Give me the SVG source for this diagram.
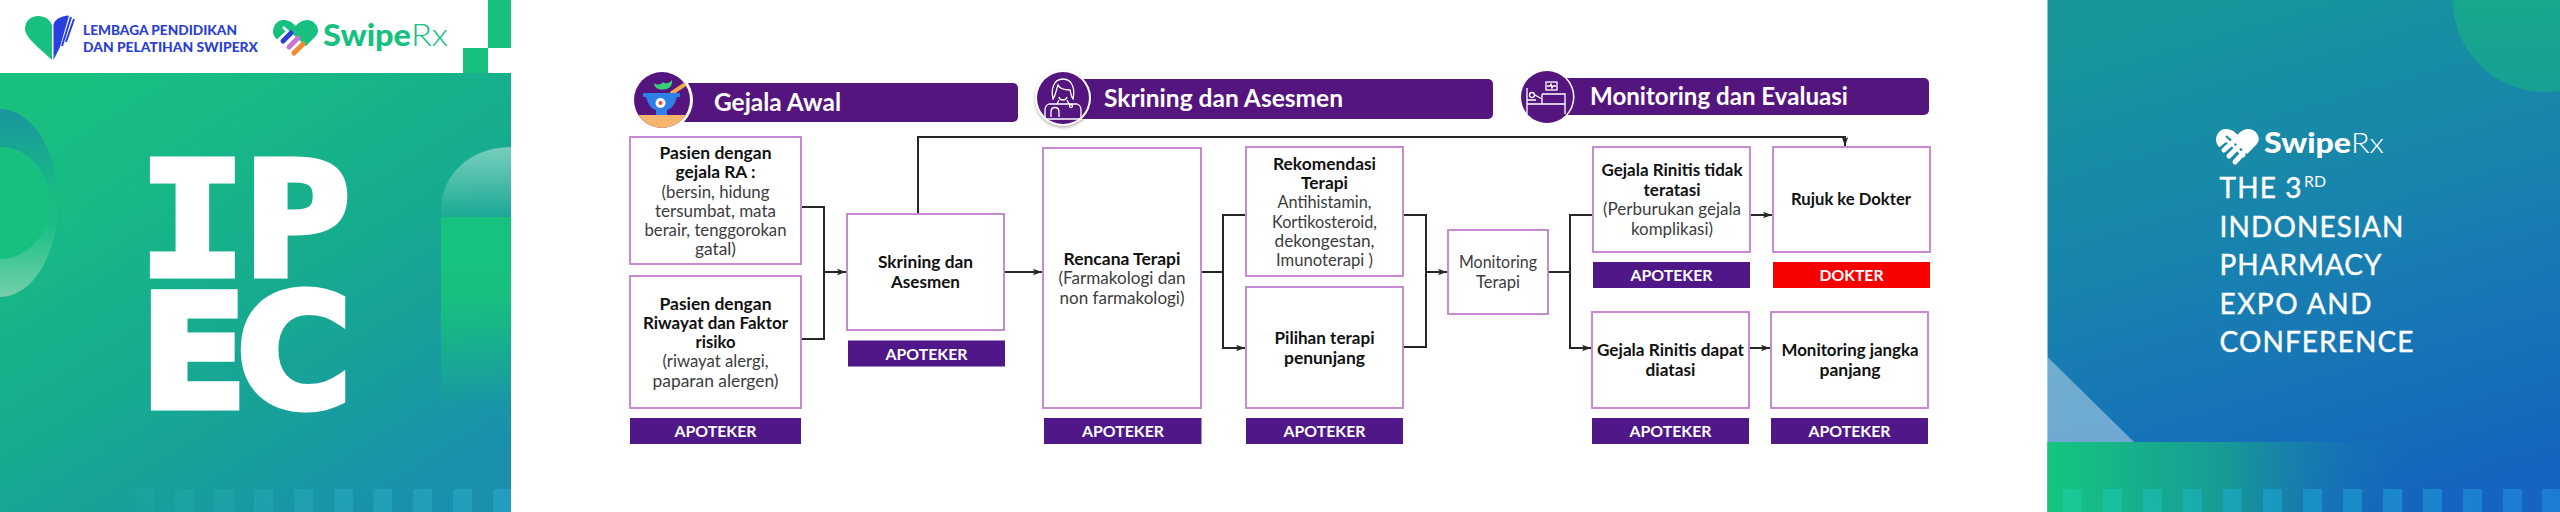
<svg xmlns="http://www.w3.org/2000/svg" width="2560" height="512" viewBox="0 0 2560 512">
<defs>
<style>
text{font-family:Lato,"Open Sans","Liberation Sans",sans-serif}
.box{fill:#fff;stroke:#c586d0;stroke-width:1.9}
.b{font-size:17px;font-weight:700;fill:#111;text-anchor:middle}
.r{font-size:17px;font-weight:400;fill:#3c3c3c;text-anchor:middle}
.tag{fill:#4f1787}
.tagt{font-size:16px;font-weight:700;fill:#fff;text-anchor:middle}
.hd{fill:#55157f}
.hdt{font-size:25.500px;font-weight:700;fill:#fff}
.conn path{fill:none;stroke:#262626;stroke-width:2}
.ico{fill:none;stroke:#fff;stroke-width:1.3}
.conf{font-size:28px;font-weight:400;fill:#fff;stroke:#fff;stroke-width:.4}
.big{font-size:157px;font-weight:700;fill:#fff;stroke:#fff;stroke-width:7;stroke-linejoin:miter}
</style>
<linearGradient id="lg" gradientUnits="userSpaceOnUse" x1="120" y1="60" x2="400" y2="512"><stop offset="0" stop-color="#18c080"/><stop offset=".55" stop-color="#16aa90"/><stop offset="1" stop-color="#1a90ac"/></linearGradient>
<linearGradient id="rg" gradientUnits="userSpaceOnUse" x1="2230" y1="0" x2="2380" y2="512"><stop offset="0" stop-color="#17969c"/><stop offset=".5" stop-color="#1880b0"/><stop offset="1" stop-color="#1564bf"/></linearGradient>
<linearGradient id="ring" x1="0" y1="0" x2="0" y2="1"><stop offset="0" stop-color="#1a94a0"/><stop offset=".45" stop-color="#18bc82"/><stop offset=".62" stop-color="#1abf85"/><stop offset="1" stop-color="#74d0ac"/></linearGradient>
<linearGradient id="arch" x1="0" y1="0" x2="0" y2="1"><stop offset="0" stop-color="#fff" stop-opacity=".42"/><stop offset="1" stop-color="#fff" stop-opacity=".02"/></linearGradient>
<linearGradient id="col" x1="0" y1="0" x2="0" y2="1"><stop offset="0" stop-color="#17c27e"/><stop offset=".4" stop-color="#17c07f"/><stop offset="1" stop-color="#17c07f" stop-opacity="0"/></linearGradient>
<linearGradient id="band" x1="0" y1="0" x2="1" y2="0"><stop offset="0" stop-color="#15c57f"/><stop offset=".35" stop-color="#179a96"/><stop offset=".75" stop-color="#1565bd" stop-opacity="0"/></linearGradient>
<linearGradient id="sqL" gradientUnits="userSpaceOnUse" x1="100" y1="0" x2="511" y2="0"><stop offset="0" stop-color="#3cc9c0" stop-opacity=".02"/><stop offset="1" stop-color="#2aa8d0" stop-opacity=".55"/></linearGradient>
<linearGradient id="sqR" gradientUnits="userSpaceOnUse" x1="2060" y1="0" x2="2560" y2="0"><stop offset="0" stop-color="#19cd98"/><stop offset=".5" stop-color="#1b94cc"/><stop offset="1" stop-color="#1e7fd8"/></linearGradient>
<linearGradient id="cir" x1="0" y1="0" x2="0" y2="1"><stop offset="0" stop-color="#17b085"/><stop offset="1" stop-color="#17a094"/></linearGradient>
<marker id="a" markerUnits="userSpaceOnUse" markerWidth="10" markerHeight="8" refX="9" refY="4" orient="auto"><path d="M0,0.8 L9,4 L0,7.2 L2,4 Z" fill="#262626"/></marker>
<filter id="sh" x="-20%" y="-20%" width="140%" height="140%"><feDropShadow dx="0" dy="1.500" stdDeviation="1.500" flood-opacity=".35"/></filter>
<clipPath id="cl"><circle cx="662" cy="100" r="28"/></clipPath>
<clipPath id="pl"><rect x="0" y="0" width="511" height="512"/></clipPath>
<path id="heart" d="M22.5,6 C19,1.5 14,0 10,0 C4,0 0,6 0,11.5 C0,15.5 2.5,18 6,21.5 L22,37 L38,21 C42,17 45,14.5 45,10.5 C45,5 40,0 34,0 C30,0 26,2 22.5,6 Z"/>
</defs>

<rect width="2560" height="512" fill="#fff"/>

<g id="left-panel" clip-path="url(#pl)">
<rect y="73" width="511" height="439" fill="url(#lg)"/>
<rect x="488" width="23" height="48" fill="#18c080"/>
<rect x="463" y="48" width="25" height="25" fill="#18c080"/>
<ellipse cx="0" cy="203" rx="58" ry="94" fill="url(#ring)"/>
<ellipse cx="0" cy="203" rx="50" ry="56" fill="#18c07f"/>
<path d="M58,150 L90,205 L60,230 Z" fill="#18c07f" opacity=".35"/>
<path d="M441,217 V210 C441,175 470,147 511,147 V217 Z" fill="url(#arch)"/>
<rect x="441" y="217" width="70" height="190" fill="url(#col)"/>
<g fill="url(#sqL)"><rect x="135" y="489" width="19" height="23"/><rect x="175" y="489" width="19" height="23"/><rect x="215" y="489" width="19" height="23"/><rect x="254" y="489" width="19" height="23"/><rect x="294" y="489" width="19" height="23"/><rect x="334" y="489" width="19" height="23"/><rect x="373" y="489" width="19" height="23"/><rect x="413" y="489" width="19" height="23"/><rect x="453" y="489" width="19" height="23"/><rect x="493" y="489" width="18" height="23"/></g>
<text class="big" transform="translate(139,274.500) scale(1.13,1)" style="font-family:'DejaVu Sans Mono',monospace"><tspan x="0">I</tspan><tspan x="93">P</tspan></text>
<text class="big" y="406.500" style="font-family:'DejaVu Sans',sans-serif"><tspan x="140">E</tspan><tspan x="236.500">C</tspan></text>
</g>

<g id="logo-lp">
<path d="M52,60 C42,50 25,38 25,29 C25,21 31,16 38,16 C45,16 51,20 52,26 Z" fill="#18c07f"/>
<path d="M53.500,60 V25 C54,20 60,16 69,15.500 L60,47 Z" fill="#2a3fe0"/>
<path d="M62,46 L71,17 M66,42 L74,19" stroke="#2a3fe0" stroke-width="2" fill="none"/>
<text x="83" y="35" font-size="14" font-weight="900" fill="#2c3fd2" textLength="154" lengthAdjust="spacingAndGlyphs">LEMBAGA PENDIDIKAN</text>
<text x="83" y="52" font-size="14" font-weight="900" fill="#2c3fd2" textLength="175" lengthAdjust="spacingAndGlyphs">DAN PELATIHAN SWIPERX</text>
</g>

<g id="logo-swiperx">
<use href="#heart" x="273" y="20" fill="#18c07f"/>
<path d="M273,43 L294,63 L316,63 L300,41 L286,31 Z" fill="#fff"/>
<path d="M283,27 L306,48" stroke="#fff" stroke-width="2.500" fill="none"/>
<path d="M283,41 L291,33" stroke="#2a3fd8" stroke-width="5" stroke-linecap="round"/>
<path d="M289,47 L298,38" stroke="#c877d0" stroke-width="5" stroke-linecap="round"/>
<path d="M294,53 L303,44" stroke="#f58a2c" stroke-width="5" stroke-linecap="round"/>
<text x="323" y="46" font-size="31" font-weight="900" fill="#18c07f" textLength="88" lengthAdjust="spacingAndGlyphs">Swipe</text>
<text x="411" y="46" font-size="31" font-weight="300" fill="#18c07f" textLength="37" lengthAdjust="spacingAndGlyphs">Rx</text>
</g>

<g id="right-panel">
<rect x="2047.500" width="512.500" height="512" fill="url(#rg)"/>
<circle cx="2545" cy="0" r="92" fill="url(#cir)"/>
<path d="M2047.500,357 L2134,442 H2047.500 Z" fill="#fff" opacity=".38"/>
<rect x="2047.500" y="442" width="512.500" height="70" fill="url(#band)"/>
<g fill="url(#sqR)" opacity=".85"><rect x="2063" y="489" width="19" height="23"/><rect x="2103" y="489" width="19" height="23"/><rect x="2143" y="489" width="19" height="23"/><rect x="2183" y="489" width="19" height="23"/><rect x="2223" y="489" width="19" height="23"/><rect x="2303" y="489" width="19" height="23"/><rect x="2263" y="489" width="19" height="23"/><rect x="2343" y="489" width="19" height="23"/><rect x="2383" y="489" width="19" height="23"/><rect x="2423" y="489" width="19" height="23"/><rect x="2463" y="489" width="19" height="23"/><rect x="2503" y="489" width="19" height="23"/><rect x="2542" y="489" width="18" height="23"/></g>
<use href="#heart" transform="translate(2216,129) scale(.95)" fill="#fff"/>
<path d="M2216,150 L2228,168 L2252,168 L2236,150 L2226,142 Z" fill="#1a8aa8"/>
<path d="M2226,136 L2247,155" stroke="#1a8aa8" stroke-width="2.200" fill="none"/>
<path d="M2224,150 L2233,142 M2229,156 L2239,146 M2235,162 L2244,152" stroke="#fff" stroke-width="5" stroke-linecap="round"/>
<text x="2264" y="153" font-size="28" font-weight="900" fill="#fff" textLength="87" lengthAdjust="spacingAndGlyphs">Swipe</text>
<text x="2351" y="153" font-size="28" font-weight="300" fill="#fff" textLength="33" lengthAdjust="spacingAndGlyphs">Rx</text>
<text class="conf" x="2219.500" y="198" textLength="82" lengthAdjust="spacing">THE 3</text>
<text x="2304" y="187" font-size="15" font-weight="400" fill="#fff" textLength="22" lengthAdjust="spacingAndGlyphs">RD</text>
<text class="conf" x="2219.500" y="237" textLength="184" lengthAdjust="spacing">INDONESIAN</text>
<text class="conf" x="2219.500" y="275" textLength="162" lengthAdjust="spacing">PHARMACY</text>
<text class="conf" x="2219.500" y="314" textLength="152" lengthAdjust="spacing">EXPO AND</text>
<text class="conf" x="2219.500" y="352" textLength="194" lengthAdjust="spacing">CONFERENCE</text>
</g>

<g id="header-gejala">
<rect class="hd" x="680" y="83" width="338" height="39" rx="5"/>
<circle cx="662" cy="100" r="31" fill="#fff"/>
<circle cx="662" cy="100" r="28" fill="#55157f"/>
<g clip-path="url(#cl)"><rect x="630" y="115" width="64" height="15" fill="#f6b56c"/></g>
<path d="M672,93 L684,85" stroke="#f4a94f" stroke-width="4" stroke-linecap="round"/>
<path d="M654,83 C658,86 662,84 663,82 C665,84 669,84 672,80 C673,86 668,90 663,89.500 C658,90 654,87 654,83 Z" fill="#3ccf78"/>
<path d="M643,93 H680 V97 H677 C675,105 671,109 667,110 V115 H656 V110 C652,109 648,105 646,97 H643 Z" fill="#2f7fe8"/>
<circle cx="660.500" cy="103" r="5" fill="#fff"/><circle cx="660.500" cy="103" r="2" fill="#e84a4a"/>
<text class="hdt" x="714" y="111" textLength="127" lengthAdjust="spacingAndGlyphs">Gejala Awal</text>
</g>

<g id="header-skrining">
<rect class="hd" x="1075" y="79" width="418" height="40" rx="5"/>
<circle cx="1063" cy="98" r="28" fill="#fff" filter="url(#sh)"/>
<circle cx="1063" cy="98" r="26" fill="#55157f"/>
<path class="ico" d="M1053,99 C1051,90 1053,79 1063,79 C1073,79 1075,90 1073,99 C1071,97 1071,93 1070,90 C1066,90 1060,89 1058,85 C1056,90 1056,95 1053,99 Z"/>
<path class="ico" d="M1059,97 C1060,101 1066,101 1067,97 M1059,100 L1057,104 H1069 L1067,100"/>
<path class="ico" d="M1057,104 H1049 C1046,105 1045,107 1045,110 V119 H1081 V110 C1081,107 1080,105 1077,104 H1069"/>
<path class="ico" d="M1051,117 V112 C1051,106 1059,106 1059,112 V117"/><circle class="ico" cx="1071" cy="106" r="1.500"/>
<text class="hdt" x="1104" y="107" textLength="239" lengthAdjust="spacingAndGlyphs">Skrining dan Asesmen</text>
</g>

<g id="header-monitoring">
<rect class="hd" x="1560" y="78" width="369" height="37" rx="5"/>
<circle cx="1547" cy="97" r="27.500" fill="#fff"/>
<circle cx="1547" cy="97" r="26" fill="#55157f"/>
<path class="ico" d="M1527,88 V114 M1527,104 H1565 V114 M1527,100 L1536,100 M1542,94 L1565,94 V104 M1542,94 V104"/>
<circle class="ico" cx="1532" cy="95" r="2.500"/>
<path class="ico" d="M1535,95 L1542,99"/>
<rect class="ico" x="1546" y="82" width="11" height="8"/><path class="ico" d="M1547,86 H1550 L1551,84 L1552,88 L1553,86 H1556"/>
<text class="hdt" x="1590" y="105" textLength="258" lengthAdjust="spacingAndGlyphs">Monitoring dan Evaluasi</text>
</g>

<g class="conn" id="connectors">
<path d="M801,207 H824 V339 H801"/>
<path d="M824,272 H846" marker-end="url(#a)"/>
<path d="M1004,272 H1042" marker-end="url(#a)"/>
<path d="M918,214 V137 H1845 V146" marker-end="url(#a)"/>
<path d="M1201,272 H1223"/>
<path d="M1245,215 H1223 V348 H1245" marker-end="url(#a)"/>
<path d="M1403,215 H1426 V347 H1403"/>
<path d="M1426,272 H1447" marker-end="url(#a)"/>
<path d="M1548,272 H1570"/>
<path d="M1592,215 H1570 V348 H1591" marker-end="url(#a)"/>
<path d="M1750,215 H1772" marker-end="url(#a)"/>
<path d="M1749,348 H1770" marker-end="url(#a)"/>
</g>

<g id="n-pasien-ra">
<rect class="box" x="630" y="137" width="171" height="127"/>
<text class="b" x="715.500" y="159" textLength="112" lengthAdjust="spacingAndGlyphs">Pasien dengan</text>
<text class="b" x="715.500" y="178" textLength="80" lengthAdjust="spacingAndGlyphs">gejala RA :</text>
<text class="r" x="715.500" y="197.500" textLength="108" lengthAdjust="spacingAndGlyphs">(bersin, hidung</text>
<text class="r" x="715.500" y="216.500" textLength="121" lengthAdjust="spacingAndGlyphs">tersumbat, mata</text>
<text class="r" x="715.500" y="236" textLength="142" lengthAdjust="spacingAndGlyphs">berair, tenggorokan</text>
<text class="r" x="715.500" y="255" textLength="41" lengthAdjust="spacingAndGlyphs">gatal)</text>
</g>
<g id="n-pasien-riwayat">
<rect class="box" x="630" y="276" width="171" height="132"/>
<text class="b" x="715.500" y="309.500" textLength="112" lengthAdjust="spacingAndGlyphs">Pasien dengan</text>
<text class="b" x="715.500" y="328.500" textLength="145" lengthAdjust="spacingAndGlyphs">Riwayat dan Faktor</text>
<text class="b" x="715.500" y="347.500" textLength="40" lengthAdjust="spacingAndGlyphs">risiko</text>
<text class="r" x="715.500" y="367" textLength="106" lengthAdjust="spacingAndGlyphs">(riwayat alergi,</text>
<text class="r" x="715.500" y="386.500" textLength="126" lengthAdjust="spacingAndGlyphs">paparan alergen)</text>
</g>
<g id="t-1"><rect class="tag" x="630" y="418" width="171" height="26"/><text class="tagt" x="715.500" y="437" textLength="82" lengthAdjust="spacingAndGlyphs">APOTEKER</text></g>

<g id="n-skrining">
<rect class="box" x="847" y="214" width="157" height="116"/>
<text class="b" x="925.500" y="268" textLength="95" lengthAdjust="spacingAndGlyphs">Skrining dan</text>
<text class="b" x="925.500" y="287.500" textLength="69" lengthAdjust="spacingAndGlyphs">Asesmen</text>
</g>
<g id="t-2"><rect class="tag" x="848" y="340.500" width="157" height="26"/><text class="tagt" x="926.500" y="359.500" textLength="82" lengthAdjust="spacingAndGlyphs">APOTEKER</text></g>

<g id="n-rencana">
<rect class="box" x="1043" y="148" width="158" height="260"/>
<text class="b" x="1122" y="264.500" textLength="117" lengthAdjust="spacingAndGlyphs">Rencana Terapi</text>
<text class="r" x="1122" y="284" textLength="127" lengthAdjust="spacingAndGlyphs">(Farmakologi dan</text>
<text class="r" x="1122" y="303.500" textLength="125" lengthAdjust="spacingAndGlyphs">non farmakologi)</text>
</g>
<g id="t-3"><rect class="tag" x="1044" y="418" width="157.500" height="26"/><text class="tagt" x="1123" y="437" textLength="82" lengthAdjust="spacingAndGlyphs">APOTEKER</text></g>

<g id="n-rekomendasi">
<rect class="box" x="1246" y="147" width="157" height="129"/>
<text class="b" x="1324.500" y="169.500" textLength="103" lengthAdjust="spacingAndGlyphs">Rekomendasi</text>
<text class="b" x="1324.500" y="188.500" textLength="47" lengthAdjust="spacingAndGlyphs">Terapi</text>
<text class="r" x="1324.500" y="208" textLength="94" lengthAdjust="spacingAndGlyphs">Antihistamin,</text>
<text class="r" x="1324.500" y="227.500" textLength="105" lengthAdjust="spacingAndGlyphs">Kortikosteroid,</text>
<text class="r" x="1324.500" y="246.500" textLength="100" lengthAdjust="spacingAndGlyphs">dekongestan,</text>
<text class="r" x="1324.500" y="266" textLength="97" lengthAdjust="spacingAndGlyphs">Imunoterapi )</text>
</g>
<g id="n-pilihan">
<rect class="box" x="1246" y="287" width="157" height="121"/>
<text class="b" x="1324.500" y="344" textLength="100" lengthAdjust="spacingAndGlyphs">Pilihan terapi</text>
<text class="b" x="1324.500" y="363.500" textLength="81" lengthAdjust="spacingAndGlyphs">penunjang</text>
</g>
<g id="t-4"><rect class="tag" x="1246" y="418" width="157" height="26"/><text class="tagt" x="1324.500" y="437" textLength="82" lengthAdjust="spacingAndGlyphs">APOTEKER</text></g>

<g id="n-monitoring-terapi">
<rect class="box" x="1448" y="230" width="100" height="84"/>
<text class="r" x="1498" y="268" textLength="78" lengthAdjust="spacingAndGlyphs">Monitoring</text>
<text class="r" x="1498" y="287.500" textLength="44" lengthAdjust="spacingAndGlyphs">Terapi</text>
</g>

<g id="n-tidak-teratasi">
<rect class="box" x="1593" y="147" width="157" height="105"/>
<text class="b" x="1672" y="176" textLength="141" lengthAdjust="spacingAndGlyphs">Gejala Rinitis tidak</text>
<text class="b" x="1672" y="195.500" textLength="57" lengthAdjust="spacingAndGlyphs">teratasi</text>
<text class="r" x="1672" y="215" textLength="138" lengthAdjust="spacingAndGlyphs">(Perburukan gejala</text>
<text class="r" x="1672" y="234.500" textLength="82" lengthAdjust="spacingAndGlyphs">komplikasi)</text>
</g>
<g id="t-5"><rect class="tag" x="1593" y="262" width="157" height="26"/><text class="tagt" x="1671.500" y="281" textLength="82" lengthAdjust="spacingAndGlyphs">APOTEKER</text></g>

<g id="n-rujuk">
<rect class="box" x="1773" y="147" width="157" height="105"/>
<text class="b" x="1851" y="205" textLength="120" lengthAdjust="spacingAndGlyphs">Rujuk ke Dokter</text>
</g>
<g id="t-6"><rect x="1773" y="262" width="157" height="26" fill="#f70000"/><text class="tagt" x="1851.500" y="281" textLength="64" lengthAdjust="spacingAndGlyphs">DOKTER</text></g>

<g id="n-dapat-diatasi">
<rect class="box" x="1592" y="312" width="157" height="96"/>
<text class="b" x="1670.500" y="356" textLength="147" lengthAdjust="spacingAndGlyphs">Gejala Rinitis dapat</text>
<text class="b" x="1670.500" y="375.500" textLength="50" lengthAdjust="spacingAndGlyphs">diatasi</text>
</g>
<g id="t-7"><rect class="tag" x="1592" y="418" width="157" height="26"/><text class="tagt" x="1670.500" y="437" textLength="82" lengthAdjust="spacingAndGlyphs">APOTEKER</text></g>

<g id="n-jangka-panjang">
<rect class="box" x="1771" y="312" width="157" height="96"/>
<text class="b" x="1850" y="356" textLength="137" lengthAdjust="spacingAndGlyphs">Monitoring jangka</text>
<text class="b" x="1850" y="375.500" textLength="61" lengthAdjust="spacingAndGlyphs">panjang</text>
</g>
<g id="t-8"><rect class="tag" x="1771" y="418" width="157" height="26"/><text class="tagt" x="1849.500" y="437" textLength="82" lengthAdjust="spacingAndGlyphs">APOTEKER</text></g>
</svg>
